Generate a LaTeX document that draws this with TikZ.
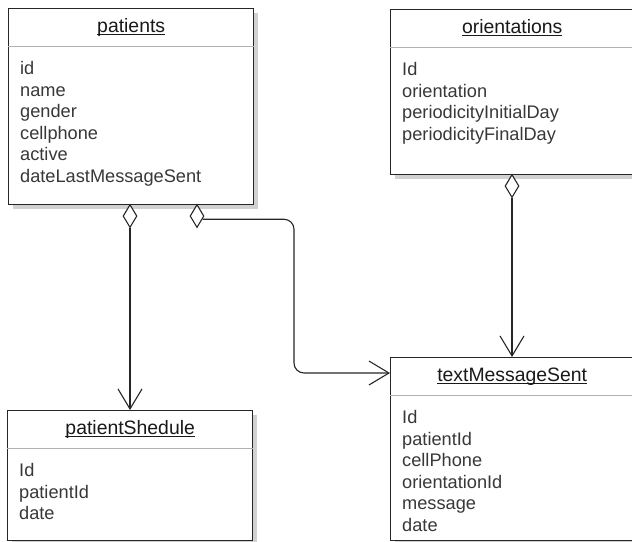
\documentclass[tikz,border=0pt]{standalone}
\usepackage{fontspec}
\setmainfont{Liberation Sans}
\usetikzlibrary{arrows.meta,shapes.geometric,shadows}

% underlined class name, rule cuts through descenders as in the UML tool
\newcommand{\classname}[1]{\setbox0\hbox{#1}\rlap{\rule[-3.2pt]{\wd0}{1.3pt}}\box0}

\begin{document}
\begin{tikzpicture}[x=1pt, y=-1pt]
    \tikzstyle{class_box} = [draw=black!85, line width=1.4pt, fill=white, anchor=north west, inner sep=0pt,
        drop shadow={shadow xshift=4pt, shadow yshift=-4pt, fill=black!18, opacity=1}]
    \tikzstyle{sep_line} = [draw=black!30, line width=1pt]
    \tikzstyle{class_title} = [anchor=base, inner sep=0pt, text=black!90, font=\fontsize{19.4}{23}\selectfont]
    \tikzstyle{attr_text} = [anchor=base west, inner sep=0pt, text=black!78, font=\fontsize{18.2}{21.5}\selectfont]
    \tikzstyle{aggr_style} = [diamond, draw=black!85, line width=1.1pt, fill=white, inner sep=0pt,
        minimum width=14pt, minimum height=23pt, anchor=north]
    \tikzstyle{edge_style} = [draw=black!85, line width=1.1pt, -{Straight Barb[length=20pt, width=24pt]}]

    \useasboundingbox (0,0) rectangle (632,541);

    % classes
    \node[class_box, minimum width=245pt, minimum height=196pt] (patients) at (8,8) {};
    \node[class_box, minimum width=243pt, minimum height=165pt] (orient) at (390,9) {};
    \node[class_box, minimum width=245pt, minimum height=130pt] (pshed) at (7,410) {};
    \node[class_box, minimum width=243pt, minimum height=183pt] (tms) at (390,357) {};

    \draw[sep_line] ([yshift=-38.5pt]patients.north west) -- ([yshift=-38.5pt]patients.north east);
    \draw[sep_line] ([yshift=-38.5pt]orient.north west) -- ([yshift=-38.5pt]orient.north east);
    \draw[sep_line] ([yshift=-38.5pt]pshed.north west) -- ([yshift=-38.5pt]pshed.north east);
    \draw[sep_line] ([yshift=-38.5pt]tms.north west) -- ([yshift=-38.5pt]tms.north east);

    \node[class_title] (patients-title) at ([yshift=-24pt]patients.north) {\classname{patients}};
    \node[class_title] (orient-title) at ([yshift=-24pt]orient.north) {\classname{orientations}};
    \node[class_title] (pshed-title) at ([yshift=-24pt]pshed.north) {\classname{patientShedule}};
    \node[class_title] (tms-title) at ([yshift=-24pt]tms.north) {\classname{textMessageSent}};

    % attributes
    \foreach \a [count=\i] in {id,name,gender,cellphone,active,dateLastMessageSent}
        \node[attr_text] (patients-\i) at ([xshift=12pt, yshift={-66.5pt-(\i-1)*21.5pt}]patients.north west) {\a};
    \foreach \a [count=\i] in {Id,orientation,periodicityInitialDay,periodicityFinalDay}
        \node[attr_text] (orient-\i) at ([xshift=12pt, yshift={-66.5pt-(\i-1)*21.5pt}]orient.north west) {\a};
    \foreach \a [count=\i] in {Id,patientId,date}
        \node[attr_text] (pshed-\i) at ([xshift=12pt, yshift={-66.5pt-(\i-1)*21.5pt}]pshed.north west) {\a};
    \foreach \a [count=\i] in {Id,patientId,cellPhone,orientationId,message,date}
        \node[attr_text] (tms-\i) at ([xshift=12pt, yshift={-66.5pt-(\i-1)*21.5pt}]tms.north west) {\a};

    % aggregations
    \node[aggr_style] (agg-pshed) at (130,204) {};
    \node[aggr_style] (agg-tms) at (197,204) {};
    \node[aggr_style] (agg-orient) at (512,174) {};
    \coordinate (tms-in) at ([yshift=-16pt]tms.north west);

    \draw[edge_style] (agg-pshed.south) -- (pshed.north -| agg-pshed.south);
    \draw[edge_style] (agg-orient.south) -- (tms.north -| agg-orient.south);
    \draw[edge_style, rounded corners=10pt] (agg-tms.-30) -| (294,300) |- (tms-in);
\end{tikzpicture}
\end{document}
